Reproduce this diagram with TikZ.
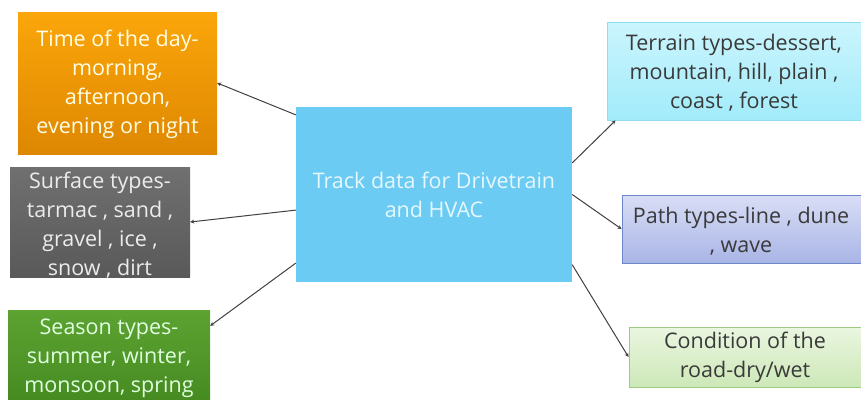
\documentclass[tikz,border=0pt]{standalone}
\usepackage{fontspec}
\setmainfont{Open Sans}
\usetikzlibrary{arrows.meta,calc}
\definecolor{orgT}{HTML}{FBA60A}
\definecolor{orgB}{HTML}{DE8702}
\definecolor{gryT}{HTML}{707070}
\definecolor{gryB}{HTML}{595959}
\definecolor{grnT}{HTML}{5DA332}
\definecolor{grnB}{HTML}{458A20}
\definecolor{ctr}{HTML}{6BCBF3}
\definecolor{terT}{HTML}{CBF5FD}
\definecolor{terB}{HTML}{A2EBFA}
\definecolor{terD}{HTML}{8FDDF0}
\definecolor{patT}{HTML}{D9DEF6}
\definecolor{patB}{HTML}{A9B5E6}
\definecolor{patD}{HTML}{6E86CC}
\definecolor{conT}{HTML}{EAF6E0}
\definecolor{conB}{HTML}{CDE8B8}
\definecolor{conD}{HTML}{9DC981}
\definecolor{dtxt}{HTML}{3A3A3A}
\definecolor{lne}{HTML}{404040}
\tikzset{
  box/.style={rectangle, inner sep=0pt, align=center, font=\fontsize{21.5}{29}\selectfont},
  lbox/.style={box, text=white!90!yellow},
  rbox/.style={box, text=dtxt, line width=1pt},
  conn/.style={draw=lne, line width=1pt, -{Stealth[length=4pt,width=4pt]}},
  txt/.style={inner sep=0pt, align=center, font=\fontsize{21.5}{29}\selectfont}
}
\begin{document}
\begin{tikzpicture}[x=1pt,y=-1pt]
\useasboundingbox (0,0) rectangle (861,399);
\begin{scope}
\clip (0,0) rectangle (861,399);
% left boxes
\node[box, top color=orgT, bottom color=orgB, minimum width=199pt, minimum height=142pt] (time) at (117.5,83) {};
\node[txt, text=white!90!yellow] at (117.5,84) {Time of the day-\\morning,\\afternoon,\\evening or night};
\node[box, top color=gryT, bottom color=gryB, minimum width=180pt, minimum height=110pt] (surf) at (100,222) {};
\node[txt, text=white!85!gray] at (100,225) {Surface types-\\tarmac , sand ,\\gravel , ice ,\\snow , dirt};
\node[box, top color=grnT, bottom color=grnB, minimum width=202pt, minimum height=94pt] (seas) at (109,357) {};
\node[txt, text=white!88!green] at (109,358) {Season types-\\summer, winter,\\monsoon, spring};
% center
\node[box, fill=ctr, minimum width=276pt, minimum height=175pt] (ctrn) at (434,194.5) {};
\node[txt, text=white!90!cyan] at (434,195) {Track data for Drivetrain\\and HVAC};
% right boxes
\node[rbox, draw=terD, top color=terT, bottom color=terB, minimum width=262pt, minimum height=98pt] (terr) at (738,71) {};
\node[txt, text=dtxt] at (734,73) {Terrain types-dessert,\\mountain, hill, plain ,\\coast , forest};
\node[rbox, draw=patD, top color=patT, bottom color=patB, minimum width=248pt, minimum height=68pt] (path) at (746,229) {};
\node[txt, text=dtxt] at (741,231) {Path types-line , dune\\, wave};
\node[rbox, draw=conD, top color=conT, bottom color=conB, minimum width=241pt, minimum height=60pt] (cond) at (749.5,357) {};
\node[txt, text=dtxt] at (745,357) {Condition of the\\road-dry/wet};
\end{scope}
\draw[conn] ($(ctrn.north west)!0.046!(ctrn.south west)$) -- (time.east);
\draw[conn] ($(ctrn.north west)!0.589!(ctrn.south west)$) -- (surf.east);
\draw[conn] ($(ctrn.north west)!0.891!(ctrn.south west)$) -- ($(seas.north east)!0.17!(seas.south east)$);
\draw[conn] ($(ctrn.north east)!0.32!(ctrn.south east)$) -- ($(terr.south west)+(9pt,0)$);
\draw[conn] ($(ctrn.north east)!0.5!(ctrn.south east)$) -- (path.west);
\draw[conn] ($(ctrn.north east)!0.9!(ctrn.south east)$) -- (cond.west);
\end{tikzpicture}
\end{document}
